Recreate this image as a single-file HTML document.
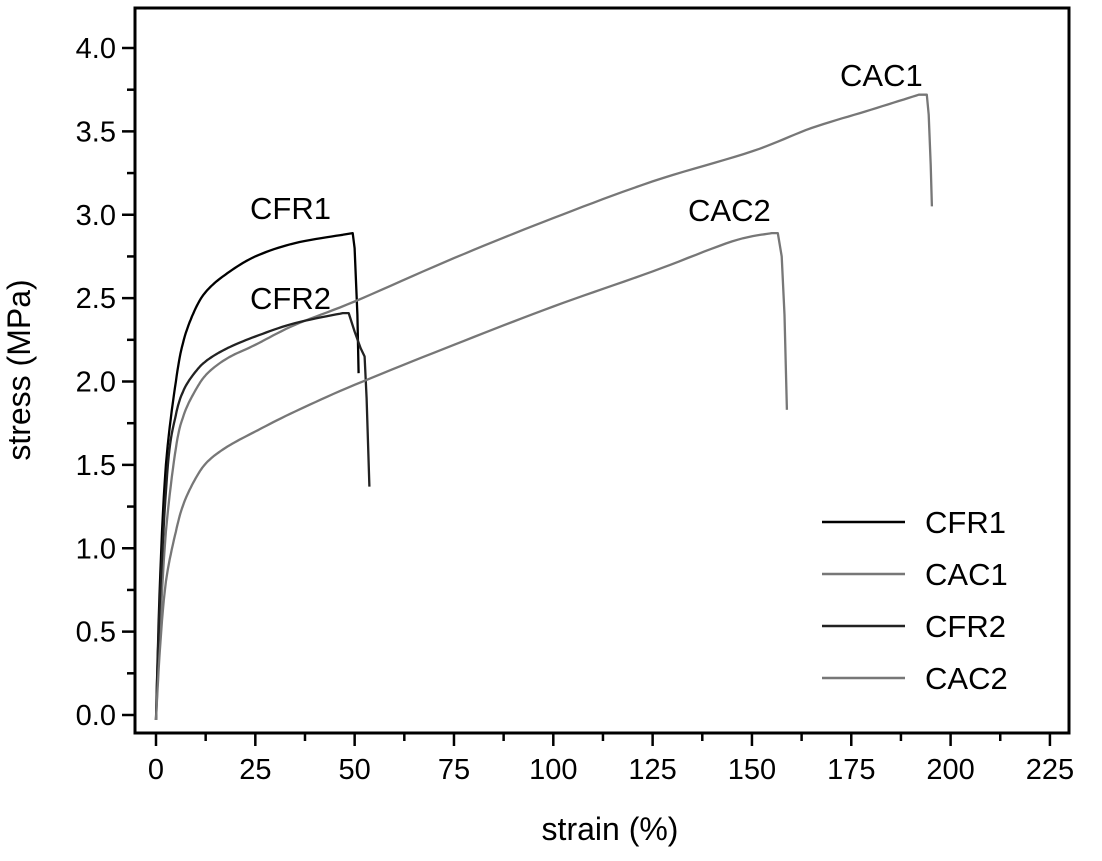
<!DOCTYPE html>
<html><head><meta charset="utf-8"><style>
body{margin:0;background:#fff}
svg text{font-family:"Liberation Sans",Arial,sans-serif}
</style></head><body>
<svg id="s" width="1102" height="856" viewBox="0 0 1102 856" xmlns="http://www.w3.org/2000/svg">
<rect x="135" y="8" width="934" height="725" fill="none" stroke="#000" stroke-width="3"/>
<g id="ax" stroke="#000" stroke-width="2.5"></g>
<g id="lab" font-size="29" fill="#000"></g>
<text x="30" y="370" font-size="32" text-anchor="middle" transform="rotate(-90 30 370)">stress (MPa)</text>
<text x="610" y="840" font-size="32" text-anchor="middle">strain (%)</text>
<g id="cur" fill="none" stroke-width="2.3"></g>
<g font-size="31">
<text x="840" y="86">CAC1</text>
<text x="688" y="221">CAC2</text>
<text x="250" y="219">CFR1</text>
<text x="250" y="309">CFR2</text>
</g>
<g stroke-width="2.5">
<line x1="822" y1="522" x2="905" y2="522" stroke="#000"/>
<line x1="822" y1="574" x2="905" y2="574" stroke="#777"/>
<line x1="822" y1="626" x2="905" y2="626" stroke="#222"/>
<line x1="822" y1="678" x2="905" y2="678" stroke="#777"/>
</g>
<g font-size="31">
<text x="925" y="533">CFR1</text>
<text x="925" y="585">CAC1</text>
<text x="925" y="637">CFR2</text>
<text x="925" y="689">CAC2</text>
</g>
</svg>
<script>
var NS="http://www.w3.org/2000/svg";
function X(s){return 156+s*3.973}function Y(v){return 715-v*166.75}
var ax=document.getElementById('ax'),lab=document.getElementById('lab');
function el(p,t,a){var e=document.createElementNS(NS,t);for(var k in a)e.setAttribute(k,a[k]);p.appendChild(e);return e}
for(var i=0;i<=9;i++){var x=X(i*25);el(ax,'line',{x1:x,y1:733,x2:x,y2:746});
 var t=el(lab,'text',{x:x,y:779,'text-anchor':'middle'});t.textContent=i*25;
 if(i<9){var m=X(i*25+12.5);el(ax,'line',{x1:m,y1:733,x2:m,y2:741});}}
for(var i=0;i<=8;i++){var y=Y(i*0.5);el(ax,'line',{x1:122,y1:y,x2:135,y2:y});
 var t=el(lab,'text',{x:116,y:y+10,'text-anchor':'end'});t.textContent=(i*0.5).toFixed(1);
 if(i<8){var m=Y(i*0.5+0.25);el(ax,'line',{x1:127,y1:m,x2:135,y2:m});}}
function cr(P){var o=[];for(var i=0;i<P.length-1;i++){var p0=P[Math.max(0,i-1)],p1=P[i],p2=P[i+1],p3=P[Math.min(P.length-1,i+2)];
 for(var t=0;t<1;t+=0.1){var t2=t*t,t3=t2*t;o.push([0,1].map(function(k){return 0.5*((2*p1[k])+(-p0[k]+p2[k])*t+(2*p0[k]-5*p1[k]+4*p2[k]-p3[k])*t2+(-p0[k]+3*p1[k]-3*p2[k]+p3[k])*t3)}))}}
 o.push(P[P.length-1]);return o}
function curve(smooth,tail,col){var pts=cr(smooth).concat(tail);var d='';pts.forEach(function(p,i){d+=(i?'L':'M')+X(p[0]).toFixed(1)+','+Y(p[1]).toFixed(1)});
 el(document.getElementById('cur'),'path',{d:d,stroke:col,'stroke-linejoin':'round'})}
curve([[0,-0.03],[1,0.8],[2.5,1.5],[5,2.0],[7,2.25],[10,2.44],[13,2.55],[18,2.65],[25,2.75],[35,2.83],[47,2.88]],[[49.5,2.89],[50,2.8],[50.7,2.4],[51,2.05]],'#000');
curve([[0,-0.03],[1,0.5],[2.5,1.1],[5,1.6],[7,1.8],[10,1.95],[13,2.05],[18,2.14],[25,2.22],[35,2.34],[50,2.48],[75,2.74],[100,2.98],[125,3.2],[150,3.38],[165,3.52],[180,3.63],[192,3.72]],[[194,3.72],[194.5,3.6],[195,3.3],[195.3,3.05]],'#777');
curve([[0,-0.03],[1,0.7],[3,1.5],[5,1.8],[7,1.95],[10,2.06],[13,2.13],[18,2.2],[25,2.27],[35,2.35],[47,2.41]],[[48.5,2.41],[50,2.3],[51.5,2.2],[52.5,2.15],[53,1.9],[53.7,1.37]],'#222');
curve([[0,-0.03],[1,0.4],[2.5,0.8],[5,1.1],[7,1.27],[10,1.42],[13,1.52],[18,1.61],[25,1.7],[35,1.82],[50,1.98],[75,2.22],[100,2.45],[125,2.66],[145,2.84],[155,2.89]],[[156.5,2.89],[157.5,2.75],[158.2,2.4],[158.8,1.83]],'#777');
</script>
</body></html>
